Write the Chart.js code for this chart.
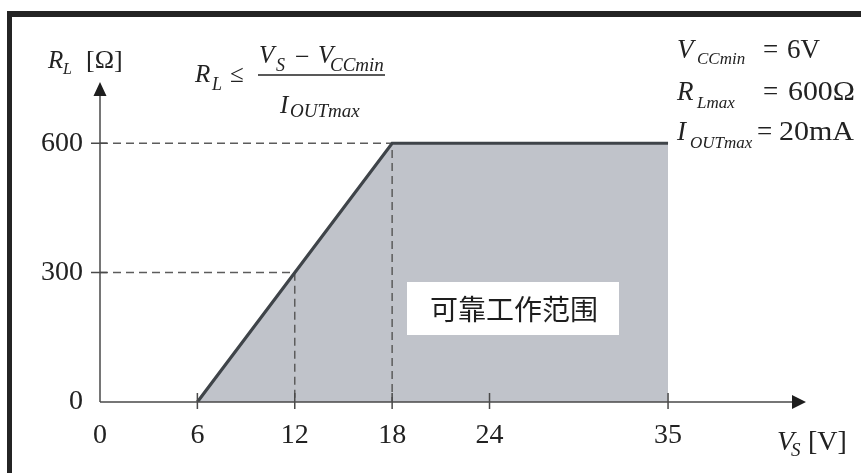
<!DOCTYPE html>
<html><head><meta charset="utf-8">
<script src="https://cdn.jsdelivr.net/npm/chart.js@4.4.1/dist/chart.umd.min.js"></script>
<style>html,body{margin:0;padding:0;background:#fff;}#wrap{width:861px;height:473px;position:relative;}</style>
</head><body><div id="wrap"><canvas id="c" width="861" height="473"></canvas></div>
<script>
// ---- data ----
const xTicks = [0, 6, 12, 18, 24, 35];
const yTicks = [0, 300, 600];
const boundaryX = [6, 18, 35];
const boundaryY = [0, 600, 600];
const regionX = [6, 18, 35, 35];
const regionY = [0, 600, 600, 0];
const guide600X = [0, 18, 18];
const guide600Y = [600, 600, 0];
const guide300X = [0, 12, 12];
const guide300Y = [300, 300, 0];
const xMax = 43.5, yMax = 742;
const regionLabel = '可靠工作范围';

const pts = (xs, ys) => xs.map((x, i) => ({x, y: ys[i]}));
const SERIF = '"Liberation Serif", "Times New Roman", serif';

function t(ctx, s, x, y, size, italic, w) {
  ctx.font = (italic ? 'italic ' : '') + size + 'px ' + SERIF;
  ctx.textAlign = 'left';
  ctx.textBaseline = 'alphabetic';
  if (w) {
    const nat = ctx.measureText(s).width;
    ctx.save(); ctx.translate(x, y); ctx.scale(w / nat, 1); ctx.fillText(s, 0, 0); ctx.restore();
  } else ctx.fillText(s, x, y);
}

const decor = {
  id: 'decor',
  afterDatasetsDraw(chart) {
    const ctx = chart.ctx, xs = chart.scales.x, ys = chart.scales.y, a = chart.chartArea;
    const x0 = xs.getPixelForValue(0), y0 = ys.getPixelForValue(0);
    ctx.save();
    // white label box
    ctx.fillStyle = '#ffffff';
    ctx.fillRect(407, 282, 212, 53);
    ctx.fillStyle = '#1e1e1e';
    ctx.font = '28px "Noto Sans CJK SC", sans-serif';
    ctx.textAlign = 'center'; ctx.textBaseline = 'middle';
    ctx.fillText(regionLabel, 514, 309);
    // axes
    ctx.strokeStyle = '#4a4a4a'; ctx.lineWidth = 1.5;
    ctx.beginPath();
    ctx.moveTo(x0, y0); ctx.lineTo(a.right - 14, y0);
    ctx.moveTo(x0, y0); ctx.lineTo(x0, a.top + 14);
    // ticks
    xTicks.forEach(v => { if (v === 0) return; const p = xs.getPixelForValue(v); ctx.moveTo(p, y0 - 9); ctx.lineTo(p, y0 + 7); });
    yTicks.forEach(v => { if (v === 0) return; const p = ys.getPixelForValue(v); ctx.moveTo(x0 - 9, p); ctx.lineTo(x0 + 7, p); });
    ctx.stroke();
    // arrowheads
    ctx.fillStyle = '#1e1e1e';
    ctx.beginPath();
    ctx.moveTo(a.right, y0); ctx.lineTo(a.right - 14, y0 - 7); ctx.lineTo(a.right - 14, y0 + 7); ctx.closePath();
    ctx.moveTo(x0, a.top); ctx.lineTo(x0 - 6.5, a.top + 14); ctx.lineTo(x0 + 6.5, a.top + 14); ctx.closePath();
    ctx.fill();
    // texts
    ctx.fillStyle = '#222';
    // y axis title
    t(ctx, 'R', 48, 68, 25, true);
    t(ctx, 'L', 63, 74, 16, true);
    t(ctx, '[Ω]', 86, 68, 26, false);
    // x axis title
    t(ctx, 'V', 777, 450, 28, true);
    t(ctx, 'S', 791, 456, 19, true);
    t(ctx, '[V]', 808, 450, 28, false);
    // formula
    t(ctx, 'R', 195, 82, 25, true);
    t(ctx, 'L', 212, 90, 18, true);
    t(ctx, '≤', 230, 82, 25, false);
    t(ctx, 'V', 259, 63, 25, true);
    t(ctx, 'S', 276, 71, 18, true);
    t(ctx, '−', 295, 65, 26, false);
    t(ctx, 'V', 318, 63, 25, true);
    t(ctx, 'CCmin', 330, 71, 19, true);
    t(ctx, 'I', 280, 113, 25, true);
    t(ctx, 'OUTmax', 290, 117, 19, true);
    ctx.strokeStyle = '#222'; ctx.lineWidth = 1.3;
    ctx.beginPath(); ctx.moveTo(258, 75); ctx.lineTo(385, 75); ctx.stroke();
    // parameters
    t(ctx, 'V', 677, 58, 27, true);
    t(ctx, 'CCmin', 697, 64, 17, true);
    t(ctx, '=', 763, 58, 27, false);
    t(ctx, '6V', 787, 58, 27, false);
    t(ctx, 'R', 677, 100, 27, true);
    t(ctx, 'Lmax', 697, 108, 17, true);
    t(ctx, '=', 763, 100, 27, false);
    t(ctx, '600Ω', 788, 100, 27, false, 67);
    t(ctx, 'I', 677, 140, 27, true);
    t(ctx, 'OUTmax', 690, 148, 17, true);
    t(ctx, '=', 757, 140, 27, false);
    t(ctx, '20mA', 779, 140, 27, false, 75);
    ctx.restore();
  },
  afterDraw(chart) {
    const ctx = chart.ctx;
    ctx.save();
    ctx.fillStyle = '#242424';
    ctx.fillRect(7, 11, 861, 6);
    ctx.fillRect(7, 11, 5, 473);
    ctx.restore();
  }
};

const dashed = {borderColor: '#5c5c5c', borderWidth: 1.5, borderDash: [8, 5], pointRadius: 0, fill: false, tension: 0};

new Chart(document.getElementById('c'), {
  type: 'line',
  data: {
    datasets: [
      {data: pts(boundaryX, boundaryY), borderColor: '#3f4449', borderWidth: 3.2, pointRadius: 0, fill: false, order: 0, borderJoinStyle: 'miter', borderCapStyle: 'butt'},
      Object.assign({data: pts(guide600X, guide600Y), order: 1}, dashed),
      Object.assign({data: pts(guide300X, guide300Y), order: 1}, dashed),
      {data: pts(regionX, regionY), borderWidth: 0, borderColor: 'rgba(0,0,0,0)', backgroundColor: '#c0c3ca', pointRadius: 0, fill: 'origin', order: 2}
    ]
  },
  options: {
    responsive: false, animation: false, devicePixelRatio: 1,
    layout: {padding: {top: 82, right: 55, left: 0, bottom: 0}},
    plugins: {legend: {display: false}, tooltip: {enabled: false}, title: {display: false}},
    scales: {
      x: {
        type: 'linear', min: 0, max: xMax,
        afterBuildTicks: s => { s.ticks = xTicks.map(v => ({value: v})); },
        afterFit: s => { s.height = 71; },
        grid: {display: false, drawTicks: false}, border: {display: false},
        ticks: {padding: 17, color: '#222', font: {family: SERIF, size: 28}, autoSkip: false, maxRotation: 0}
      },
      y: {
        type: 'linear', min: 0, max: yMax,
        afterBuildTicks: s => { s.ticks = yTicks.map(v => ({value: v})); },
        afterFit: s => { s.width = 100; },
        grid: {display: false, drawTicks: false}, border: {display: false},
        ticks: {padding: 17, color: '#222', font: {family: SERIF, size: 28}, autoSkip: false}
      }
    }
  },
  plugins: [decor]
});
</script>
</body></html>
